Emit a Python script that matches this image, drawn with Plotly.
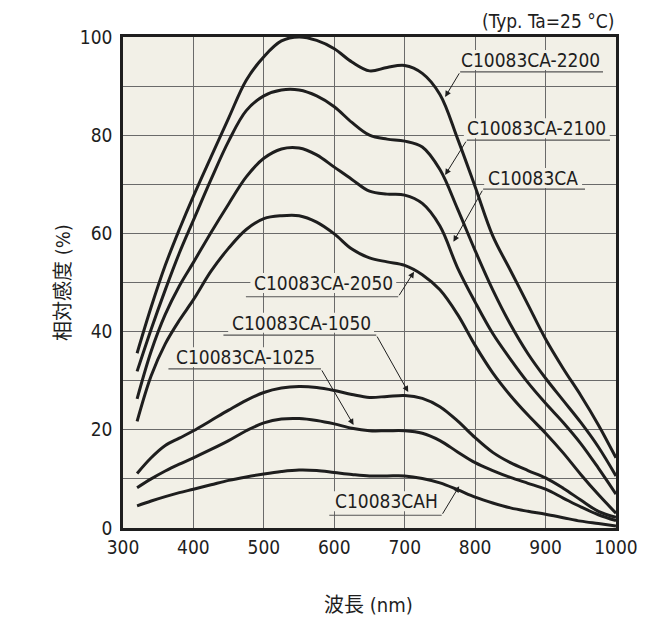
import plotly.graph_objects as go

# ---- data ----
wavelength = [320, 340, 360, 380, 400, 425, 450, 475, 500, 525, 550, 575, 600, 625, 650,
              675, 700, 725, 750, 775, 800, 825, 850, 875, 900, 925, 950, 975, 1000]

s_2200 = [35.6, 45.0, 53.5, 60.8, 67.6, 75.6, 83.5, 91.2, 96.0, 99.2, 100.0, 99.3, 97.6, 94.9,
          93.1, 93.8, 94.2, 92.6, 88.3, 79.3, 69.5, 59.5, 52.5, 45.5, 38.5, 32.5, 27.0, 21.0, 14.3]
s_2100 = [31.9, 40.5, 48.5, 56.0, 62.7, 71.0, 78.8, 85.0, 88.0, 89.2, 89.2, 88.0, 85.8, 82.6,
          80.0, 79.2, 78.8, 77.6, 73.0, 65.0, 56.5, 48.5, 41.5, 35.5, 30.5, 26.0, 21.5, 16.5, 10.6]
s_ca = [26.3, 36.0, 43.5, 49.3, 54.1, 60.2, 66.0, 71.5, 75.3, 77.2, 77.4, 76.0, 73.5, 71.0,
        68.6, 68.0, 67.8, 66.1, 61.5, 53.0, 46.0, 39.6, 34.4, 29.6, 25.4, 21.5, 17.2, 12.2, 6.9]
s_2050 = [21.7, 31.0, 37.5, 42.3, 46.5, 52.3, 57.0, 60.8, 63.0, 63.6, 63.6, 62.3, 59.9, 56.8,
          55.0, 54.2, 53.5, 51.6, 48.5, 43.5, 37.2, 31.6, 27.0, 23.0, 19.3, 15.3, 10.9, 6.8, 3.0]
s_1050 = [11.1, 14.3, 16.8, 18.3, 19.8, 21.9, 24.0, 26.0, 27.6, 28.5, 28.8, 28.6, 28.0, 27.2,
          26.6, 26.8, 27.0, 26.4, 24.7, 21.8, 18.4, 15.4, 13.3, 11.7, 10.2, 8.1, 5.7, 3.4, 2.2]
s_1025 = [8.2, 10.0, 11.6, 13.0, 14.3, 16.0, 17.8, 19.8, 21.4, 22.2, 22.3, 21.9, 21.2, 20.3,
          19.8, 19.8, 19.8, 19.3, 17.8, 15.5, 13.3, 11.7, 10.3, 9.1, 7.9, 6.1, 4.3, 2.7, 1.5]
s_cah = [4.5, 5.5, 6.4, 7.2, 7.9, 8.8, 9.7, 10.4, 11.0, 11.5, 11.8, 11.7, 11.3, 10.9,
         10.6, 10.6, 10.6, 10.1, 9.2, 7.8, 6.3, 5.1, 4.1, 3.4, 2.8, 2.1, 1.4, 0.9, 0.4]

series_names = ["C10083CA-2200", "C10083CA-2100", "C10083CA", "C10083CA-2050",
                "C10083CA-1050", "C10083CA-1025", "C10083CAH"]
series_values = [s_2200, s_2100, s_ca, s_2050, s_1050, s_1025, s_cah]

x_ticks = [300, 400, 500, 600, 700, 800, 900, 1000]
y_ticks = [0, 20, 40, 60, 80, 100]

# ---- label layout (text centre, text width px, underline, leader tail, leader tip) ----
label_layout = [
    # name, cx, cy, width_px, ul_x0, ul_x1, ul_y, tail_x, tail_y, tip_x, tip_y
    ("C10083CA-2200", 878.0, 95.3, 140, 778.7, 981.6, 92.9, 778.7, 92.9, 757.4, 87.8),
    ("C10083CA-2100", 887.5, 81.4, 140, 788.2, 991.5, 79.0, 788.2, 79.0, 757.4, 71.9),
    ("C10083CA", 882.3, 71.3, 92, 811.3, 956.0, 69.0, 811.3, 69.0, 769.2, 58.3),
    ("C10083CA-2050", 584.4, 49.9, 140, 474.5, 690.8, 47.1, 690.8, 47.1, 713.2, 52.2),
    ("C10083CA-1050", 552.9, 41.8, 140, 442.6, 659.6, 39.3, 659.6, 39.3, 705.0, 27.7),
    ("C10083CA-1025", 474.0, 34.8, 140, 364.5, 581.1, 32.4, 581.1, 32.4, 627.4, 21.0),
    ("C10083CAH", 673.5, 5.45, 104, 592.9, 752.5, 2.6, 752.5, 2.6, 777.3, 8.5),
]

FONT = "DejaVu Sans Condensed, DejaVu Sans, Noto Sans CJK JP, sans-serif"
PLOT_BG = "#f2f0e7"
INK = "#1e1e1e"
GRID = "#6a6a6a"

# page body has an 8px margin: figure is placed at (8, 8)
OFF = 8
W, H = 648, 612
ML, MR, MT, MB = 122.5 - OFF, 40, 37 - OFF, 91.5
plot_w = W - ML - MR
plot_h = H - MT - MB
nm_per_px = 700.0 / plot_w
pct_per_px = 100.0 / plot_h

fig = go.Figure()
for name, vals in zip(series_names, series_values):
    fig.add_trace(go.Scatter(
        x=wavelength, y=vals, mode="lines", name=name,
        line=dict(color=INK, width=3, shape="spline", smoothing=1.0),
        hoverinfo="x+y+name",
    ))

shapes = []
annotations = []
for (name, cx, cy, wpx, u0, u1, uy, tx, ty, px, py) in label_layout:
    hw = (wpx / 2 + 3) * nm_per_px
    hh = 10 * pct_per_px
    shapes.append(dict(type="rect", xref="x", yref="y", x0=cx - hw, x1=cx + hw,
                       y0=cy - hh, y1=cy + hh, fillcolor=PLOT_BG,
                       line=dict(width=0), layer="between"))
    shapes.append(dict(type="line", xref="x", yref="y", x0=u0, x1=u1, y0=uy, y1=uy,
                       line=dict(color="#555555", width=1.2), layer="between"))
    annotations.append(dict(x=cx, y=cy, xref="x", yref="y", text=name, showarrow=False,
                            font=dict(family=FONT, size=19, color=INK),
                            xanchor="center", yanchor="middle"))
    annotations.append(dict(x=px, y=py, xref="x", yref="y", ax=tx, ay=ty,
                            axref="x", ayref="y", text="", showarrow=True,
                            arrowhead=2, arrowsize=1.2, arrowwidth=1, arrowcolor=INK))

# page-pixel positions converted to paper coordinates
def paper_x(page_px):
    return (page_px - OFF - ML) / plot_w

def paper_y(page_py):
    return 1 - (page_py - OFF - MT) / plot_h

annotations.append(dict(x=1.0, y=paper_y(21), xref="paper", yref="paper",
                        text="(Typ. Ta=25 °C)", showarrow=False,
                        xanchor="right", yanchor="middle",
                        font=dict(family=FONT, size=19, color=INK)))
annotations.append(dict(x=paper_x(62), y=0.5, xref="paper", yref="paper",
                        text="相対感度 (%)", textangle=-90, showarrow=False,
                        xanchor="center", yanchor="middle",
                        font=dict(family=FONT, size=20, color=INK)))
annotations.append(dict(x=paper_x(368), y=paper_y(606), xref="paper", yref="paper",
                        text="波長 (nm)", showarrow=False,
                        xanchor="center", yanchor="middle",
                        font=dict(family=FONT, size=20, color=INK)))

fig.update_layout(
    width=W, height=H,
    margin=dict(l=ML, r=MR, t=MT, b=MB, pad=0),
    paper_bgcolor="white", plot_bgcolor=PLOT_BG,
    showlegend=False,
    font=dict(family=FONT, size=19, color=INK),
    shapes=shapes, annotations=annotations,
    xaxis=dict(range=[300, 1000], tickvals=x_ticks, ticktext=[str(v) for v in x_ticks],
               showgrid=True, gridcolor=GRID, gridwidth=1,
               showline=True, linecolor=INK, linewidth=2.5, mirror=True,
               ticks="", zeroline=False,
               tickfont=dict(family=FONT, size=19, color=INK)),
    yaxis=dict(range=[0, 100], tickvals=y_ticks, ticktext=[str(v) for v in y_ticks],
               showgrid=True, gridcolor=GRID, gridwidth=1,
               minor=dict(tickvals=[10, 30, 50, 70, 90], showgrid=True,
                          gridcolor=GRID, gridwidth=1),
               showline=True, linecolor=INK, linewidth=2.5, mirror=True,
               ticks="outside", ticklen=4, tickcolor="rgba(0,0,0,0)",
               zeroline=False, tickfont=dict(family=FONT, size=19, color=INK)),
)

fig.write_html("out.html")
